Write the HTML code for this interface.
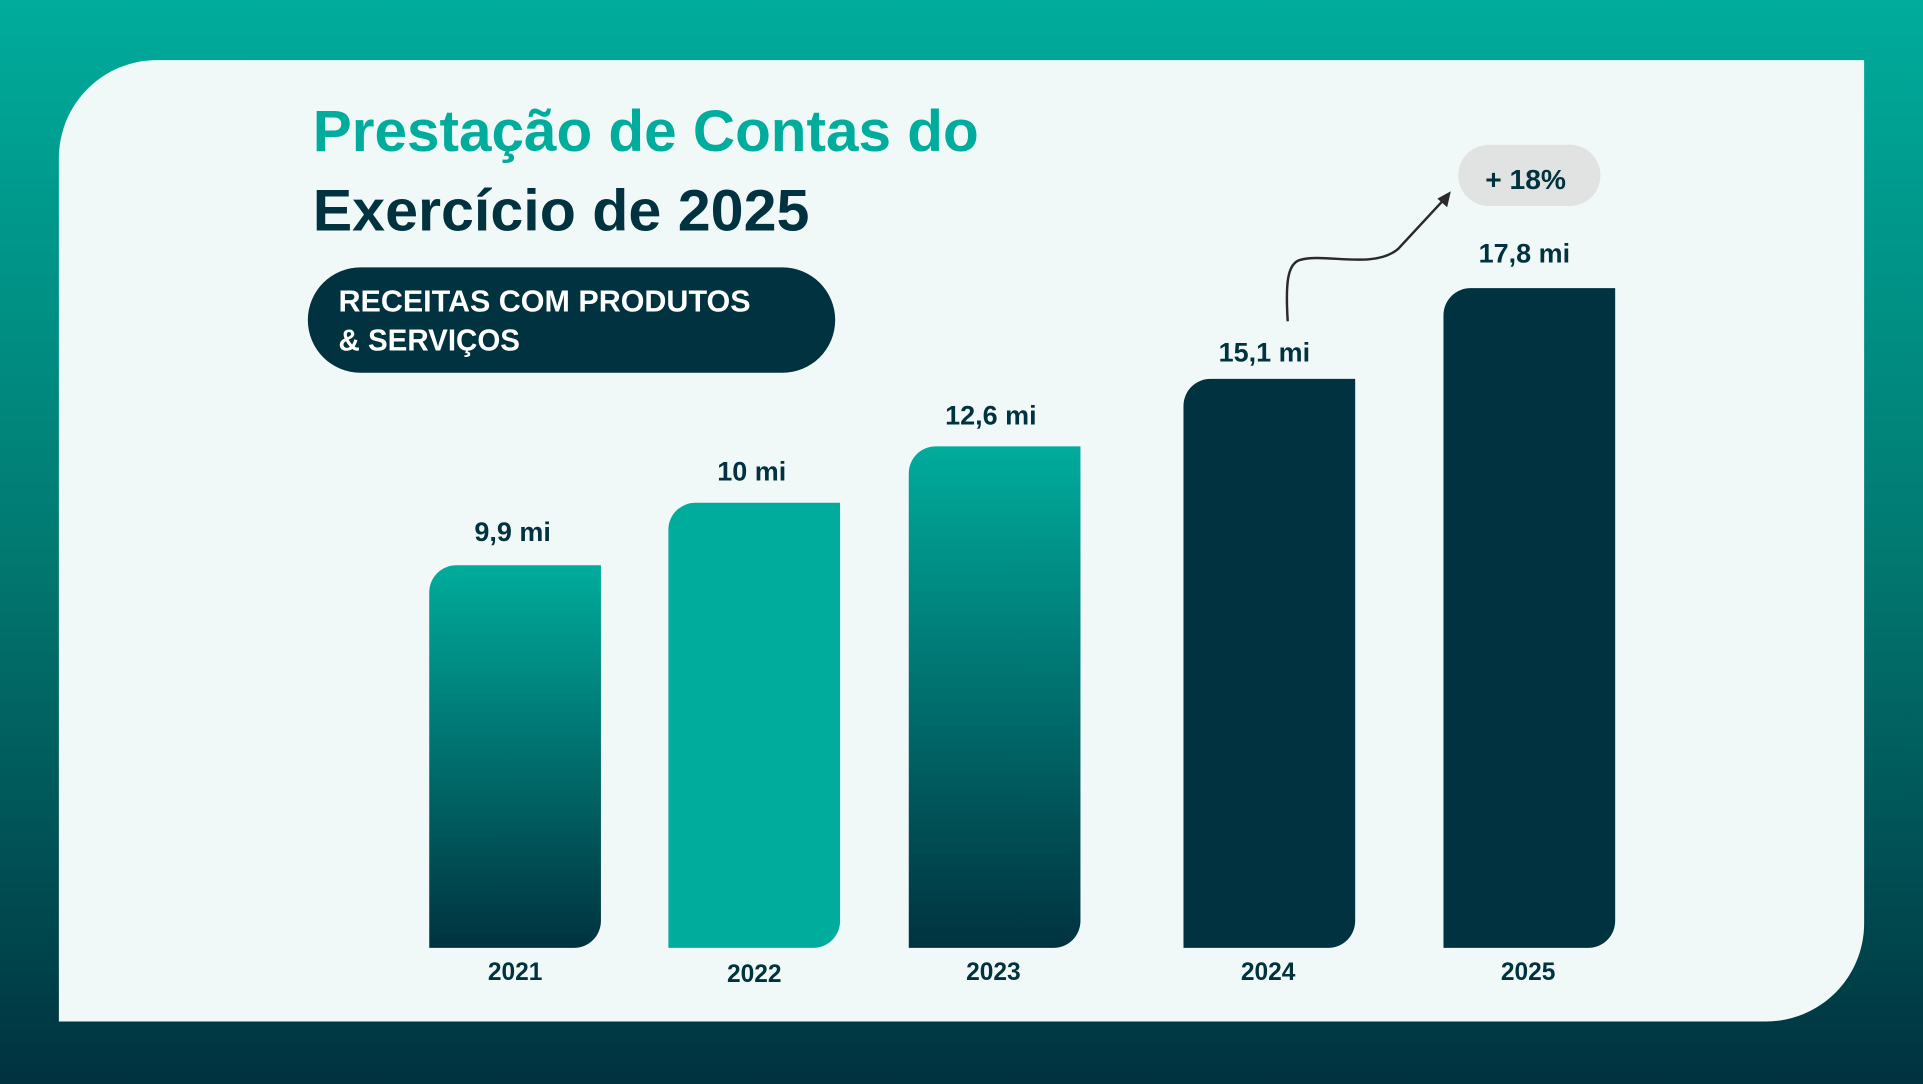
<!DOCTYPE html>
<html><head><meta charset="utf-8"><style>html,body{margin:0;padding:0;overflow:hidden}svg{display:block}</style></head>
<body>
<svg width="1923" height="1084" viewBox="0 0 1568 884" preserveAspectRatio="none" xmlns="http://www.w3.org/2000/svg" font-family="Liberation Sans, sans-serif" font-weight="bold">
<defs>
<linearGradient id="bg" x1="0" y1="0" x2="0" y2="1">
<stop offset="0" stop-color="#00ac9c"/><stop offset="0.5" stop-color="#017a72"/><stop offset="1" stop-color="#00323f"/></linearGradient>
<linearGradient id="bar" x1="0" y1="0" x2="0" y2="1">
<stop offset="0" stop-color="#00ac9c"/><stop offset="1" stop-color="#00323f"/></linearGradient>
</defs>
<rect x="0" y="0" width="1568" height="884" fill="url(#bg)"/>
<path d="M128 49 H1520 V753 A80 80 0 0 1 1440 833 H48 V129 A80 80 0 0 1 128 49 Z" fill="#f1f9f8"/>
<text x="255" y="123" font-size="48" fill="#00ac9c" textLength="543" lengthAdjust="spacingAndGlyphs">Prestação de Contas do</text>
<text x="255" y="188" font-size="48" fill="#00323f" textLength="405" lengthAdjust="spacingAndGlyphs">Exercício de 2025</text>
<rect x="251" y="218" width="430" height="86" rx="43" fill="#00323f"/>
<text x="276" y="254" font-size="25" fill="#fff" textLength="336" lengthAdjust="spacingAndGlyphs">RECEITAS COM PRODUTOS</text>
<text x="276" y="286" font-size="25" fill="#fff" textLength="148" lengthAdjust="spacingAndGlyphs">&amp; SERVIÇOS</text>
<g>
<path d="M372 461 H490 V751 A22 22 0 0 1 468 773 H350 V483 A22 22 0 0 1 372 461 Z" fill="url(#bar)"/>
<path d="M567 410 H685 V751 A22 22 0 0 1 663 773 H545 V432 A22 22 0 0 1 567 410 Z" fill="#00ac9c"/>
<path d="M763 364 H881 V751 A22 22 0 0 1 859 773 H741 V386 A22 22 0 0 1 763 364 Z" fill="url(#bar)"/>
<path d="M987 309 H1105 V751 A22 22 0 0 1 1083 773 H965 V331 A22 22 0 0 1 987 309 Z" fill="#00323f"/>
<path d="M1199 235 H1317 V751 A22 22 0 0 1 1295 773 H1177 V257 A22 22 0 0 1 1199 235 Z" fill="#00323f"/>
</g>
<g font-size="22" fill="#00323f" text-anchor="middle">
<text x="418" y="441">9,9 mi</text>
<text x="613" y="392">10 mi</text>
<text x="808" y="346">12,6 mi</text>
<text x="1031" y="295">15,1 mi</text>
<text x="1243" y="214">17,8 mi</text>
<text x="420" y="799" font-size="20">2021</text>
<text x="615" y="801" font-size="20">2022</text>
<text x="810" y="799" font-size="20">2023</text>
<text x="1034" y="799" font-size="20">2024</text>
<text x="1246" y="799" font-size="20">2025</text>
</g>
<rect x="1189" y="118" width="116" height="50" rx="25" fill="#e1e3e3"/>
<text x="1244" y="154" font-size="23" fill="#00323f" text-anchor="middle">+ 18%</text>
<path d="M1050 262 C1048 230 1050 215 1060 212 C1080 206 1120 220 1140 203 L1178 162" fill="none" stroke="#2a2a2a" stroke-width="2"/>
<path d="M1183 156 L1172 162 L1180 169 Z" fill="#2a2a2a"/>
</svg>
</body></html>
